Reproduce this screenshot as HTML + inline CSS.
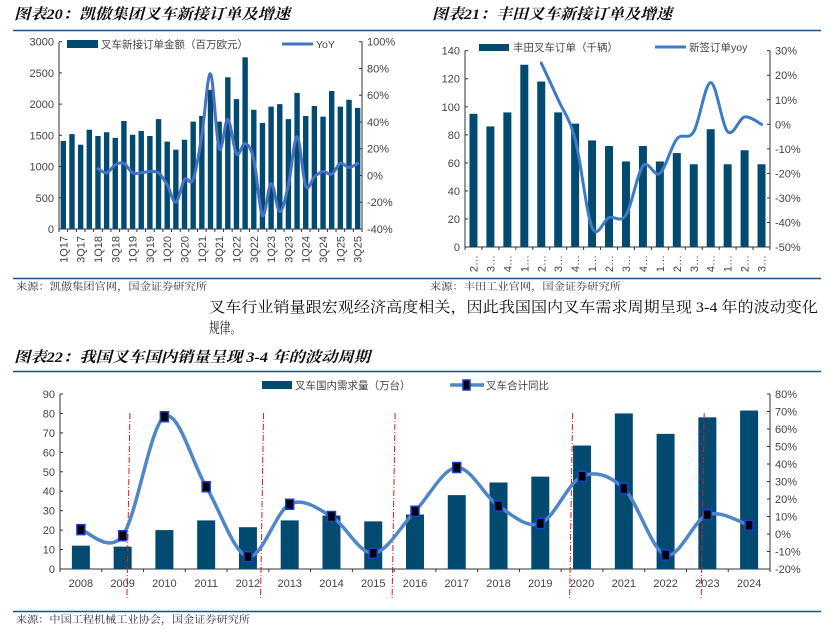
<!DOCTYPE html>
<html><head><meta charset="utf-8">
<style>
html,body{margin:0;padding:0;background:#fff;}
svg{display:block;}
.t{font-family:"Liberation Serif","Noto Serif CJK SC",serif;font-weight:bold;font-style:italic;font-size:15px;fill:#111;}
.src{font-family:"Liberation Serif","Noto Serif CJK SC",serif;font-size:10px;fill:#333;}
.p{font-family:"Liberation Serif","Noto Serif CJK SC",serif;font-size:15px;fill:#111;}
.ax{font-family:"Liberation Sans","Noto Sans CJK SC",sans-serif;font-size:11px;fill:#444;}
.lg{font-family:"Liberation Sans","Noto Sans CJK SC",sans-serif;font-size:10.5px;fill:#444;}
</style></head>
<body>
<svg id="root" width="832" height="632" viewBox="0 0 832 632" xmlns="http://www.w3.org/2000/svg">
<text class="t" x="14" y="19" textLength="276" lengthAdjust="spacingAndGlyphs">图表20：凯傲集团叉车新接订单及增速</text>
<text class="t" x="432" y="19" textLength="240" lengthAdjust="spacingAndGlyphs">图表21：丰田叉车新接订单及增速</text>
<line x1="13" y1="30.5" x2="821" y2="30.5" stroke="#1f4e79" stroke-width="1.5"/>
<line x1="13" y1="278.5" x2="821" y2="278.5" stroke="#1f4e79" stroke-width="1.5"/>
<text class="src" x="16" y="290" textLength="191" lengthAdjust="spacingAndGlyphs">来源：凯傲集团官网，国金证券研究所</text>
<text class="src" x="430" y="290" textLength="191" lengthAdjust="spacingAndGlyphs">来源：丰田工业官网，国金证券研究所</text>
<text class="p" x="209" y="312" textLength="609" lengthAdjust="spacingAndGlyphs">叉车行业销量跟宏观经济高度相关，因此我国国内叉车需求周期呈现 3-4 年的波动变化</text>
<text class="p" x="209" y="333" textLength="32" lengthAdjust="spacingAndGlyphs">规律。</text>
<text class="t" x="14" y="362" textLength="356" lengthAdjust="spacingAndGlyphs">图表22：我国叉车国内销量呈现 3-4 年的波动周期</text>
<line x1="13" y1="371.5" x2="821" y2="371.5" stroke="#1f4e79" stroke-width="1.5"/>
<line x1="13" y1="611.5" x2="821" y2="611.5" stroke="#1f4e79" stroke-width="1.5"/>
<text class="src" x="16" y="623" textLength="234" lengthAdjust="spacingAndGlyphs">来源：中国工程机械工业协会，国金证券研究所</text>
<g id="c1"></g>
<g id="c2"></g>
<g id="c3"></g>
</svg>
<script>
// Chart 1 data
const c1Cats = ["1Q17","2Q17","3Q17","4Q17","1Q18","2Q18","3Q18","4Q18","1Q19","2Q19","3Q19","4Q19","1Q20","2Q20","3Q20","4Q20","1Q21","2Q21","3Q21","4Q21","1Q22","2Q22","3Q22","4Q22","1Q23","2Q23","3Q23","4Q23","1Q24","2Q24","3Q24","4Q24","1Q25","2Q25","3Q25"];
const c1Bars = [1410,1520,1350,1590,1490,1550,1460,1730,1510,1570,1490,1760,1400,1270,1430,1720,1810,2230,1720,2430,2080,2750,1910,1700,1960,2000,1760,2180,1810,1970,1800,2210,1960,2070,1940];
const c1Yoy = [null,null,null,null,5,2,8,9,2,2,3,2,-7,-20,-3,-3,30,76,20,42,16,24,12,-30,-6,-27,-7,29,-8,-1,3,1,9,6,9];
const c1LeftTicks = [0,500,1000,1500,2000,2500,3000];
const c1RightTicks = [-40,-20,0,20,40,60,80,100];
// Chart 2 data
const c2Cats = ["2…","3…","4…","1…","2…","3…","4…","1…","2…","3…","4…","1…","2…","3…","4…","1…","2…","3…"];
const c2Bars = [95,86,96,130,118,96,88,76,72,61,72,61,67,59,84,59,69,59];
const c2Yoy = [null,null,null,null,25,10,-6,-42,-38,-37,-17,-20,-6,-3,17,-3,3,0];
const c2LeftTicks = [0,20,40,60,80,100,120,140];
const c2RightTicks = [-50,-40,-30,-20,-10,0,10,20,30];
// Chart 3 data
const c3Cats = ["2008","2009","2010","2011","2012","2013","2014","2015","2016","2017","2018","2019","2020","2021","2022","2023","2024"];
const c3Bars = [12,11.5,20,25,21.5,25,27.5,24.5,28,38,44.5,47.5,63.5,80,69.5,78,81.5];
const c3Yoy = [2.5,-1,67,27,-13,17,10,-11,13,38,16,6,33,26,-12,11,5];
const c3LeftTicks = [0,10,20,30,40,50,60,70,80,90];
const c3RightTicks = [-20,-10,0,10,20,30,40,50,60,70,80];
const c3Cycles = [1.15,4.35,7.5,11.75,14.9];

const NS="http://www.w3.org/2000/svg";
function mk(parent,tag,attrs,txt){const e=document.createElementNS(NS,tag);for(const k in attrs)e.setAttribute(k,attrs[k]);if(txt!==undefined)e.textContent=txt;parent.appendChild(e);return e;}
function smooth(pts){let d="M"+pts[0][0]+","+pts[0][1];for(let i=0;i<pts.length-1;i++){const p0=pts[i-1]||pts[i],p1=pts[i],p2=pts[i+1],p3=pts[i+2]||p2;const t=6;d+=" C"+(p1[0]+(p2[0]-p0[0])/t)+","+(p1[1]+(p2[1]-p0[1])/t)+" "+(p2[0]-(p3[0]-p1[0])/t)+","+(p2[1]-(p3[1]-p1[1])/t)+" "+p2[0]+","+p2[1];}return d;}

function chart(g,o){
  const {L,R,T,B,lmin,lmax,rmin,rmax,cats,bars,yoy,lt,rt,barW}=o;
  const n=cats.length,band=(R-L)/n;
  const xc=i=>L+band*(i+0.5);
  const yl=v=>B-(v-lmin)/(lmax-lmin)*(B-T);
  const yr=v=>B-(v-rmin)/(rmax-rmin)*(B-T);
  const ax=mk(g,"g",{});
  
  
  mk(ax,"line",{x1:L,y1:T,x2:L,y2:B,stroke:"#333","stroke-width":1});
  mk(ax,"line",{x1:R,y1:T,x2:R,y2:B,stroke:"#333","stroke-width":1});
  mk(ax,"line",{x1:L,y1:B,x2:R,y2:B,stroke:"#333","stroke-width":1});
  lt.forEach(v=>{mk(ax,"line",{x1:L,y1:yl(v),x2:L+3,y2:yl(v),stroke:"#333"});
    const t=mk(ax,"text",{class:"ax",x:L-5,y:yl(v)+4,"text-anchor":"end"},String(v));
    
    });
  rt.forEach(v=>{mk(ax,"line",{x1:R-3,y1:yr(v),x2:R,y2:yr(v),stroke:"#333"});
    const t=mk(ax,"text",{class:"ax",x:R+5,y:yr(v)+4},v+"%");
    
    });
  for(let i=0;i<=n;i++)mk(ax,"line",{x1:L+band*i,y1:B,x2:L+band*i,y2:B+3,stroke:"#333"});
  bars.forEach((v,i)=>{const r=mk(g,"rect",{x:xc(i)-barW/2,y:yl(v),width:barW,height:B-yl(v),fill:"#034a70"});
    
    });
  if(o.cycles)o.cycles.forEach(c=>{const l=mk(g,"line",{x1:xc(c)+1,y1:T+19,x2:xc(c)-2,y2:B+30,stroke:"#e0191a","stroke-width":1,"stroke-dasharray":"6,2,1,2"});
    
    });
  const pts=[];yoy.forEach((v,i)=>{if(v!==null)pts.push([xc(i),yr(v)]);});
  const p=mk(g,"path",{d:smooth(pts),fill:"none",stroke:o.lineColor,"stroke-width":o.lineW,"stroke-linejoin":"round","stroke-linecap":"round"});
  
  
  if(o.markers)pts.forEach(q=>{const m=mk(g,"rect",{x:q[0]-4,y:q[1]-5,width:8,height:10,fill:"#000",stroke:"#1a3fd0","stroke-width":1.5});
    
    });
  return {xc,B};
}

const c1=document.getElementById("c1");
const r1=chart(c1,{L:59,R:362,T:41.7,B:229,lmin:0,lmax:3000,rmin:-40,rmax:100,cats:c1Cats,bars:c1Bars,yoy:c1Yoy,lt:c1LeftTicks,rt:c1RightTicks,barW:5.4,lineColor:"#4472c4",lineW:3});
c1Cats.forEach((c,i)=>{if(i%2===0){const x=r1.xc(i)+4;const t=mk(c1,"text",{class:"ax",x:x,y:236,"text-anchor":"end",transform:"rotate(-90 "+x+" 236)"},c);
  
  }});
const lg1=mk(c1,"g",{});


mk(lg1,"rect",{x:67,y:40,width:31,height:8,fill:"#034a70"});
mk(lg1,"text",{class:"lg",x:101,y:48},"叉车新接订单金额（百万欧元）");
mk(lg1,"line",{x1:282,y1:44,x2:313,y2:44,stroke:"#4472c4","stroke-width":3});
mk(lg1,"text",{class:"lg",x:316,y:48},"YoY");

const c2=document.getElementById("c2");
const r2=chart(c2,{L:465,R:770,T:50.7,B:247,lmin:0,lmax:140,rmin:-50,rmax:30,cats:c2Cats,bars:c2Bars,yoy:c2Yoy,lt:c2LeftTicks,rt:c2RightTicks,barW:8,lineColor:"#3d7cc4",lineW:3});
c2Cats.forEach((c,i)=>{const x=r2.xc(i)+4;const t=mk(c2,"text",{class:"ax",x:x,y:255,"text-anchor":"end",transform:"rotate(-90 "+x+" 255)"},c);
  
  });
const lg2=mk(c2,"g",{});


mk(lg2,"rect",{x:479,y:44,width:30,height:7,fill:"#034a70"});
mk(lg2,"text",{class:"lg",x:513,y:51},"丰田叉车订单（千辆）");
mk(lg2,"line",{x1:655,y1:47,x2:686,y2:47,stroke:"#3d7cc4","stroke-width":3});
mk(lg2,"text",{class:"lg",x:689,y:51},"新签订单yoy");

const c3=document.getElementById("c3");
const r3=chart(c3,{L:60,R:770,T:394,B:569,lmin:0,lmax:90,rmin:-20,rmax:80,cats:c3Cats,bars:c3Bars,yoy:c3Yoy,lt:c3LeftTicks,rt:c3RightTicks,barW:18,lineColor:"#4f86c6",lineW:3.5,markers:true,cycles:c3Cycles});
c3Cats.forEach((c,i)=>{const t=mk(c3,"text",{class:"ax",x:r3.xc(i),y:587,"text-anchor":"middle"},c);
  
  });
const lg3=mk(c3,"g",{});


mk(lg3,"rect",{x:262,y:381,width:30,height:8,fill:"#034a70"});
mk(lg3,"text",{class:"lg",x:295,y:389},"叉车国内需求量（万台）");
mk(lg3,"line",{x1:450,y1:385,x2:484,y2:385,stroke:"#4f86c6","stroke-width":3.5});
mk(lg3,"rect",{x:463,y:380,width:7,height:10,fill:"#000",stroke:"#1a3fd0","stroke-width":1.5});
mk(lg3,"text",{class:"lg",x:486,y:389},"叉车合计同比");
</script>
</body></html>
